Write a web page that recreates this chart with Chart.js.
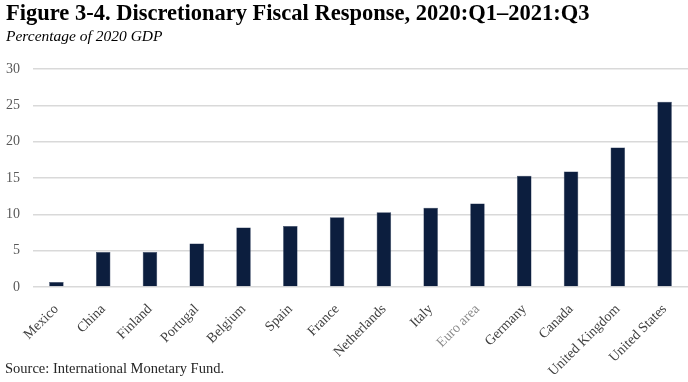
<!DOCTYPE html>
<html>
<head>
<meta charset="utf-8">
<script src="https://cdn.jsdelivr.net/npm/chart.js@4"></script>
<style>
  body { margin: 0; width: 688px; height: 382px; overflow: hidden; background: #fff; font-family: "Liberation Serif", "Times New Roman", serif; }
  #wrap { position: relative; width: 688px; height: 382px; }
  #chart { position: absolute; left: 0; top: 0; }
  .title { position: absolute; left: 6px; top: 0px; font-size: 22.5px; font-weight: bold; color: #000; white-space: nowrap; }
  .subtitle { position: absolute; left: 6px; top: 27px; font-size: 15.5px; font-style: italic; color: #000; white-space: nowrap; }
  .source { position: absolute; left: 5px; top: 360px; font-size: 14.5px; color: #262626; white-space: nowrap; }
</style>
</head>
<body>
<div id="wrap">
  <canvas id="chart" width="688" height="382"></canvas>
  <div class="title">Figure 3-4. Discretionary Fiscal Response, 2020:Q1–2021:Q3</div>
  <div class="subtitle">Percentage of 2020 GDP</div>
  <div class="source">Source: International Monetary Fund.</div>
</div>
<script>
// data
const countries = ['Mexico', 'China', 'Finland', 'Portugal', 'Belgium', 'Spain', 'France',
  'Netherlands', 'Italy', 'Euro area', 'Germany', 'Canada', 'United Kingdom', 'United States'];
const fiscalResponse = [0.7, 4.8, 4.8, 6.0, 8.2, 8.4, 9.6, 10.3, 10.9, 11.5, 15.3, 15.9, 19.2, 25.5];
const yTicks = [0, 5, 10, 15, 20, 25, 30];

const serif = '"Liberation Serif", "Times New Roman", serif';

new Chart(document.getElementById('chart'), {
  type: 'bar',
  data: {
    labels: countries,
    datasets: [{
      data: fiscalResponse,
      backgroundColor: '#0c1e3e',
      borderColor: '#2a3a58',
      borderWidth: 0.5,
      barPercentage: 0.31,
      categoryPercentage: 1
    }]
  },
  options: {
    responsive: false,
    animation: false,
    layout: { padding: { top: 69, right: 0, bottom: 0, left: 0 } },
    plugins: { legend: { display: false }, tooltip: { enabled: false } },
    scales: {
      x: {
        grid: { display: false },
        border: { display: false },
        ticks: {
          minRotation: 45,
          maxRotation: 45,
          padding: 6,
          font: { family: serif, size: 14 },
          color: ctx => countries[ctx.index] === 'Euro area' ? '#8c8c8c' : '#404040'
        },
        afterFit: scale => { scale.height = 95; }
      },
      y: {
        min: 0,
        max: 30,
        afterBuildTicks: scale => { scale.ticks = yTicks.map(v => ({ value: v })); },
        grid: { color: '#d9d9d9', lineWidth: 1.5, drawTicks: false },
        border: { display: false },
        ticks: {
          padding: 13,
          font: { family: serif, size: 14 },
          color: '#595959'
        },
        afterFit: scale => { scale.width = 33; }
      }
    }
  }
});
</script>
</body>
</html>
